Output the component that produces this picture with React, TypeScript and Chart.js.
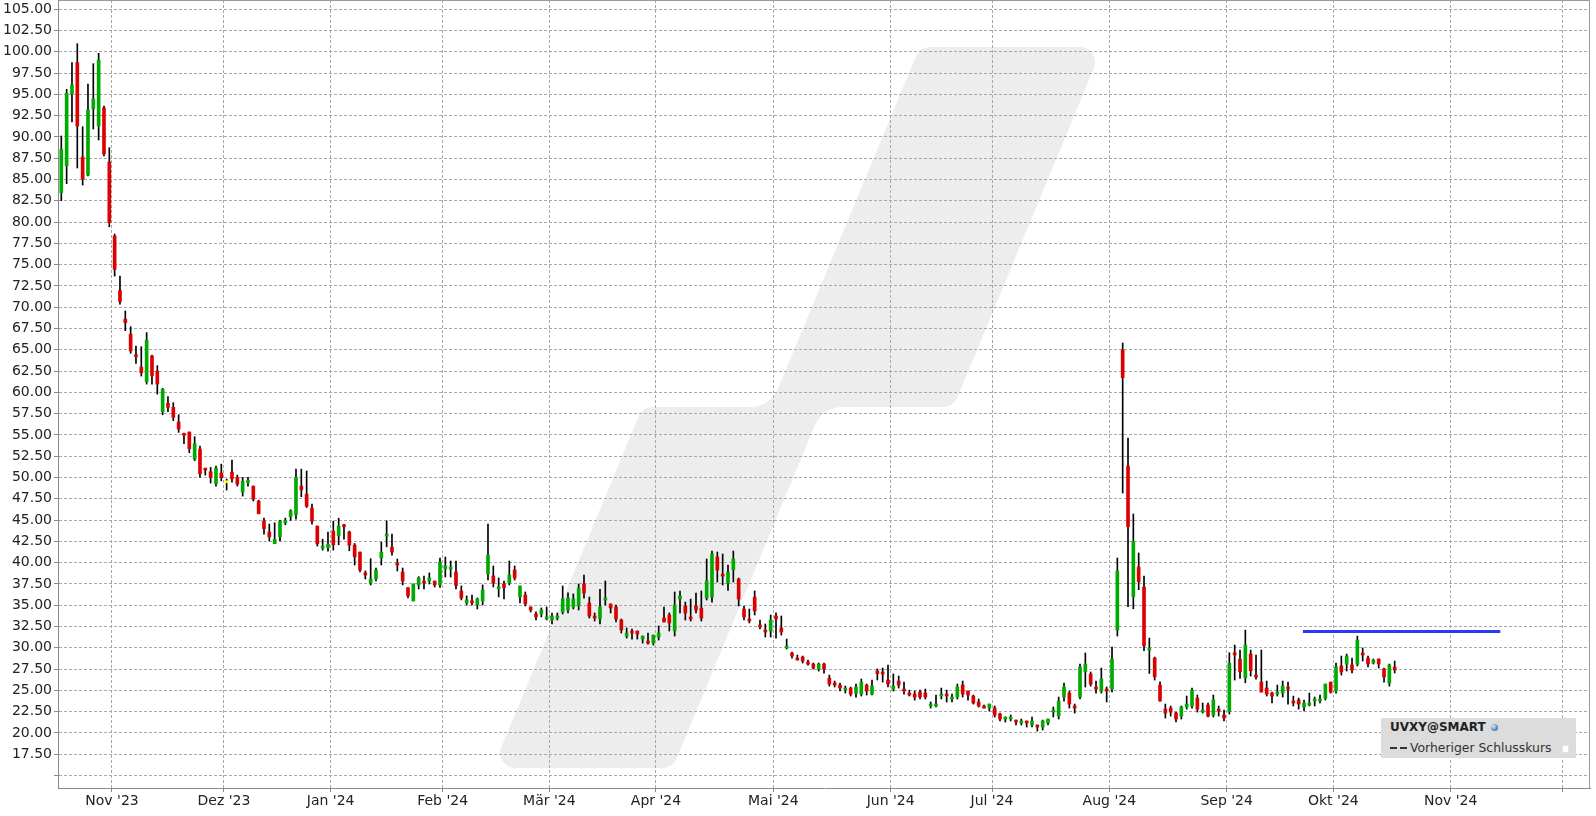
import { useEffect, useRef } from 'react';
import { Chart, registerables } from 'chart.js';

Chart.register(...registerables);

// ---- Data (UVXY daily candles, trading-day index 0 = 18 Oct 2023) ----
const openPrices = [
  83.46, 86.63, 95.05, 98.73, 87.65, 85.54, 93.33, 91.29, 93.41, 87.06,
  78.37, 71.95, 68.62, 66.83, 64.39, 62.98, 61.26, 64.27, 62.51, 57.74,
  58.72, 58.25, 56.52, 55.15, 55.35, 52.17, 53.35, 51.08, 50.68, 49.27,
  50.53, 49.39, 50.64, 50.02, 48.29, 49.39, 49.0, 47.24, 44.89, 43.6,
  42.23, 43.05, 44.69, 45.4, 45.63, 48.99, 48.05, 46.41, 44.3, 41.71,
  41.79, 43.71, 43.17, 44.42, 43.59, 42.07, 41.25, 38.8, 37.62, 38.09,
  40.55, 43.13, 41.83, 39.97, 38.91, 37.07, 35.51, 37.42, 37.85, 37.85,
  37.85, 37.39, 39.27, 39.27, 38.91, 36.68, 35.28, 35.51, 35.04, 35.51,
  38.68, 38.44, 36.92, 37.5, 37.62, 39.14, 35.98, 36.21, 34.8, 33.98,
  33.98, 33.4, 33.27, 33.5, 34.22, 34.45, 34.8, 34.92, 37.5, 35.26,
  33.74, 33.39, 35.62, 35.15, 34.8, 33.27, 31.39, 31.98, 31.98, 31.03,
  30.8, 30.56, 31.27, 33.5, 33.86, 31.98, 35.73, 34.92, 33.62, 34.92,
  34.68, 35.85, 35.97, 40.67, 38.67, 37.62, 39.14, 38.08, 34.56, 33.39,
  35.97, 32.68, 32.1, 31.98, 33.74, 32.33, 29.97, 29.39, 28.8, 28.92,
  28.33, 28.1, 27.51, 28.1, 26.45, 25.87, 25.63, 25.04, 25.28, 24.69,
  24.57, 25.63, 24.57, 27.28, 27.17, 26.22, 25.16, 26.1, 25.16, 24.69,
  24.57, 24.81, 24.69, 23.17, 23.17, 24.34, 24.57, 23.99, 24.22, 25.63,
  24.93, 24.34, 23.64, 23.17, 22.93, 22.93, 22.23, 21.64, 21.64, 21.52,
  21.17, 21.41, 20.94, 20.94, 20.7, 21.17, 22.46, 21.99, 24.22, 24.69,
  23.17, 24.22, 27.17, 26.93, 25.4, 24.93, 25.16, 25.16, 32.09, 64.98,
  51.35, 36.01, 39.49, 37.14, 29.74, 28.8, 25.63, 22.81, 22.93, 22.34,
  21.99, 23.05, 23.17, 24.1, 22.46, 23.28, 22.11, 22.81, 22.11, 22.5,
  29.43, 28.68, 26.49, 29.27, 26.8, 25.98, 25.28, 24.69, 24.57, 24.69,
  25.4, 23.75, 23.87, 23.05, 23.29, 23.75, 23.75, 24.1, 25.98, 24.93,
  27.87, 28.1, 27.99, 28.1, 29.39, 28.8, 28.22, 28.69, 27.52, 25.86,
  27.75,
];

const highPrices = [
  90.12, 95.6, 98.73, 100.96, 91.21, 96.22, 98.61, 99.83, 93.64, 88.74,
  78.6, 73.66, 69.57, 67.72, 65.45, 65.37, 67.02, 64.39, 63.14, 60.48,
  59.5, 58.79, 57.38, 55.23, 55.35, 54.8, 53.7, 51.08, 51.19, 51.35,
  51.58, 49.82, 52.05, 50.29, 50.02, 50.02, 49.0, 47.35, 45.24, 44.54,
  44.69, 44.97, 45.24, 46.23, 51.0, 50.99, 50.77, 46.88, 44.3, 42.77,
  43.59, 44.88, 45.23, 44.5, 43.71, 42.26, 41.25, 39.03, 40.47, 39.38,
  42.42, 44.92, 43.36, 40.43, 39.38, 37.07, 37.5, 38.36, 38.44, 38.8,
  37.85, 40.55, 40.67, 40.2, 40.2, 37.27, 36.1, 36.21, 35.86, 37.39,
  44.53, 39.62, 38.21, 37.85, 40.2, 39.62, 37.27, 36.56, 34.8, 34.22,
  34.69, 34.8, 34.09, 34.09, 37.27, 36.45, 36.33, 37.5, 38.55, 35.97,
  34.1, 36.88, 37.85, 35.15, 35.03, 33.39, 32.33, 32.21, 31.98, 31.39,
  31.74, 31.5, 32.57, 34.8, 34.1, 36.56, 36.68, 35.38, 35.73, 36.44,
  36.68, 40.43, 41.37, 41.25, 41.02, 39.73, 41.37, 38.2, 34.92, 34.56,
  36.68, 33.27, 32.8, 33.86, 34.1, 33.74, 31.03, 29.51, 29.16, 29.04,
  28.57, 28.22, 28.22, 28.22, 26.8, 26.1, 25.87, 25.51, 25.4, 25.75,
  26.34, 25.75, 26.22, 27.52, 27.63, 27.99, 26.93, 26.69, 25.98, 25.04,
  24.93, 25.04, 25.16, 23.64, 24.46, 25.28, 25.04, 24.57, 25.75, 26.1,
  24.93, 24.46, 23.99, 23.29, 23.4, 23.17, 22.34, 21.88, 22.11, 21.52,
  21.64, 21.41, 21.88, 20.94, 21.52, 21.64, 23.05, 24.22, 25.87, 24.93,
  23.4, 28.1, 29.4, 27.17, 26.1, 27.63, 25.4, 30.1, 40.55, 65.8,
  54.64, 45.72, 41.14, 38.43, 31.15, 28.92, 26.02, 23.4, 23.17, 22.46,
  23.17, 24.34, 25.28, 24.46, 23.52, 23.52, 24.46, 23.17, 22.7, 29.43,
  30.33, 29.74, 32.09, 29.74, 29.16, 29.74, 26.1, 24.81, 25.63, 26.1,
  25.98, 24.34, 24.1, 23.87, 24.69, 24.22, 24.46, 25.75, 25.98, 28.22,
  29.04, 29.27, 28.8, 31.38, 29.98, 29.04, 28.69, 28.69, 27.63, 28.1,
  28.45,
];

const lowPrices = [
  82.52, 84.52, 91.76, 86.36, 84.36, 85.42, 90.94, 89.65, 87.77, 79.46,
  73.66, 70.38, 67.25, 64.6, 63.41, 61.92, 60.98, 60.98, 59.8, 57.38,
  57.74, 56.68, 55.31, 53.98, 52.92, 51.98, 50.06, 50.29, 49.35, 49.0,
  49.62, 48.53, 49.47, 49.0, 47.82, 49.0, 47.24, 45.75, 43.36, 42.55,
  42.23, 42.55, 44.46, 44.97, 45.12, 47.76, 46.49, 44.53, 41.95, 41.48,
  41.36, 41.48, 42.11, 42.77, 41.4, 39.73, 38.91, 38.09, 37.39, 37.85,
  39.73, 41.87, 40.9, 39.03, 37.39, 35.86, 35.51, 36.92, 36.92, 37.5,
  37.15, 37.11, 38.32, 38.32, 36.92, 35.63, 35.04, 35.04, 34.57, 35.04,
  37.97, 37.15, 35.98, 35.75, 37.39, 37.97, 35.28, 34.92, 34.22, 33.28,
  33.63, 33.28, 32.8, 33.27, 33.98, 34.09, 34.57, 34.45, 35.85, 33.5,
  33.15, 32.8, 35.03, 34.1, 33.04, 31.74, 31.15, 31.03, 31.03, 30.56,
  30.44, 30.33, 30.92, 33.04, 31.98, 31.39, 34.1, 33.27, 33.15, 34.1,
  33.15, 35.62, 35.38, 37.73, 37.38, 36.76, 37.73, 34.92, 33.27, 32.92,
  33.86, 32.21, 31.27, 31.27, 31.15, 31.5, 29.86, 28.8, 28.57, 28.22,
  27.98, 27.51, 27.27, 27.04, 25.51, 25.4, 24.93, 24.69, 24.34, 24.22,
  24.34, 24.46, 24.46, 26.22, 25.98, 25.4, 24.93, 25.28, 24.57, 24.34,
  23.87, 23.99, 23.99, 22.93, 23.05, 23.99, 23.64, 23.64, 23.99, 24.22,
  23.87, 23.4, 23.05, 22.93, 22.58, 21.88, 21.41, 21.29, 21.41, 20.94,
  20.94, 20.7, 20.7, 20.23, 20.35, 20.94, 21.88, 21.64, 23.75, 22.93,
  22.34, 23.99, 25.4, 25.51, 24.69, 24.69, 23.64, 24.81, 31.39, 48.18,
  34.83, 34.59, 36.83, 29.67, 27.0, 26.22, 23.75, 21.76, 21.99, 21.29,
  21.64, 22.81, 22.93, 22.46, 22.34, 21.88, 21.88, 21.99, 21.41, 22.23,
  26.22, 26.41, 25.9, 26.69, 26.33, 24.81, 24.34, 23.52, 24.34, 24.22,
  23.4, 23.17, 22.81, 22.58, 23.17, 23.17, 23.52, 23.87, 24.69, 24.69,
  26.8, 27.28, 27.05, 27.87, 28.45, 27.75, 28.1, 27.63, 25.98, 25.51,
  27.05,
];

const closePrices = [
  88.55, 95.13, 96.11, 91.29, 85.07, 93.17, 94.46, 99.04, 88.0, 79.94,
  74.45, 70.66, 68.19, 64.87, 64.2, 62.31, 66.16, 61.96, 60.98, 60.36,
  58.25, 57.07, 55.7, 54.96, 53.39, 53.98, 50.45, 50.88, 49.98, 51.11,
  49.98, 49.39, 49.86, 49.23, 49.58, 49.7, 47.47, 45.75, 43.99, 43.05,
  42.74, 44.89, 44.97, 46.07, 50.02, 48.56, 46.61, 44.88, 42.22, 41.95,
  42.18, 42.11, 44.3, 44.22, 42.07, 40.7, 39.14, 38.56, 38.09, 39.14,
  41.25, 43.36, 41.25, 39.73, 37.85, 36.1, 37.5, 38.2, 37.62, 38.21,
  37.39, 40.08, 39.62, 39.5, 37.31, 35.86, 35.63, 35.28, 35.75, 36.8,
  40.9, 37.62, 37.15, 37.07, 38.56, 38.2, 37.27, 35.16, 34.45, 33.63,
  34.45, 33.63, 33.74, 33.74, 35.75, 35.86, 35.75, 37.03, 36.44, 33.74,
  33.5, 34.8, 35.85, 34.68, 33.39, 32.1, 31.74, 31.74, 31.62, 31.39,
  30.56, 31.5, 31.74, 33.04, 32.92, 35.03, 36.09, 34.1, 33.39, 34.45,
  33.5, 37.85, 41.02, 39.14, 38.43, 38.9, 40.43, 35.73, 33.62, 33.15,
  34.33, 32.45, 31.86, 33.27, 33.39, 31.86, 30.21, 29.04, 28.57, 28.45,
  28.1, 27.63, 28.1, 27.51, 25.75, 25.63, 25.28, 25.28, 24.57, 25.4,
  25.98, 24.93, 25.51, 26.97, 26.93, 25.75, 25.51, 25.63, 24.93, 24.46,
  24.22, 24.22, 24.22, 23.4, 23.4, 24.57, 24.34, 24.22, 25.4, 24.57,
  24.46, 23.52, 23.17, 22.93, 23.4, 22.11, 21.64, 21.88, 21.88, 21.29,
  21.41, 21.17, 21.41, 20.7, 21.41, 21.64, 22.7, 23.75, 25.4, 23.4,
  22.93, 27.75, 28.1, 25.75, 25.16, 26.34, 24.93, 28.69, 39.02, 61.73,
  44.23, 42.51, 37.77, 30.25, 29.98, 26.61, 23.75, 22.34, 22.46, 21.64,
  23.05, 23.4, 25.04, 22.81, 22.7, 21.99, 23.87, 22.58, 21.76, 28.18,
  29.16, 27.2, 30.33, 27.31, 26.57, 24.81, 24.57, 24.34, 24.81, 25.51,
  25.16, 23.52, 23.4, 23.52, 23.52, 23.99, 23.99, 25.75, 24.81, 27.75,
  27.17, 29.04, 27.4, 30.91, 29.16, 28.1, 28.57, 28.1, 26.57, 27.98,
  27.4,
];

// Month boundaries on the trading-day index axis and their labels
const monthTickIdx = [9.5, 30.5, 50.5, 71.5, 91.5, 111.5, 133.5, 155.5, 174.5, 196.5, 218.5, 238.5, 260.5, 281.5];
const monthLabels = ["Nov '23", "Dez '23", "Jan '24", "Feb '24", "Mär '24", "Apr '24", "Mai '24", "Jun '24", "Jul '24", "Aug '24", "Sep '24", "Okt '24", "Nov '24", ""];

const yTickValues = [15, 17.5, 20, 22.5, 25, 27.5, 30, 32.5, 35, 37.5, 40, 42.5, 45, 47.5, 50, 52.5, 55, 57.5, 60, 62.5, 65, 67.5, 70, 72.5, 75, 77.5, 80, 82.5, 85, 87.5, 90, 92.5, 95, 97.5, 100, 102.5, 105];

// Previous-close reference level and the index span it covers
const prevCloseLevel = 31.93;
const prevCloseSpan = [232.8, 269.8];

const symbolLabel = 'UVXY@SMART';
const legendLabel = 'Vorheriger Schlusskurs';

const FONT = 'DejaVu Sans, Verdana, sans-serif';

export default function App() {
  const ref = useRef<HTMLCanvasElement>(null);

  useEffect(() => {
    const canvas = ref.current;
    if (!canvas) return;
    const idx = openPrices.map((_, i) => i);
    const wickData = idx.map((i) => ({ x: i, y: [lowPrices[i], highPrices[i]] }));
    const bodyData = idx.map((i) => ({ x: i, y: [openPrices[i], closePrices[i]] }));
    const bodyColors = idx.map((i) =>
      closePrices[i] > openPrices[i] ? '#00aa00' : closePrices[i] < openPrices[i] ? '#dd0000' : '#ffff00'
    );

    const watermark = {
      id: 'watermark',
      beforeDraw(chart: any) {
        const ctx = chart.ctx as CanvasRenderingContext2D;
        const P = [
          [919.8, 47], [1102.7, 47], [953.4, 407], [822.5, 407],
          [672.7, 768], [492.7, 768], [642.5, 407], [770.4, 407],
        ];
        const R = [15, 15, 15, 30, 15, 15, 15, 30];
        ctx.save();
        ctx.fillStyle = '#ededed';
        ctx.beginPath();
        const n = P.length;
        const mx = (P[0][0] + P[1][0]) / 2;
        ctx.moveTo(mx, P[0][1]);
        for (let k = 1; k <= n; k++) {
          const cur = P[k % n];
          const nxt = P[(k + 1) % n];
          ctx.arcTo(cur[0], cur[1], nxt[0], nxt[1], R[k % n]);
        }
        ctx.closePath();
        ctx.fill();
        ctx.restore();
      },
    };

    const frame = {
      id: 'frame',
      afterDraw(chart: any) {
        const ctx = chart.ctx as CanvasRenderingContext2D;
        const a = chart.chartArea;
        ctx.save();
        ctx.strokeStyle = '#999999';
        ctx.lineWidth = 1;
        ctx.beginPath();
        ctx.moveTo(Math.round(a.left) + 0.5, 0.5);
        ctx.lineTo(Math.round(a.right) - 0.5, 0.5);
        ctx.lineTo(Math.round(a.right) - 0.5, Math.round(a.bottom));
        ctx.stroke();
        ctx.restore();
      },
    };

    const gridCommon = {
      color: '#a8a8a8',
      lineWidth: 1,
      drawTicks: true,
      tickLength: 4,
      tickColor: '#8a8a8a',
      offset: false,
    };

    const chart = new Chart(canvas, {
      type: 'bar',
      data: {
        datasets: [
          {
            type: 'line',
            data: [
              { x: prevCloseSpan[0], y: prevCloseLevel },
              { x: prevCloseSpan[1], y: prevCloseLevel },
            ],
            borderColor: '#2b38f2',
            borderWidth: 3,
            pointRadius: 0,
            order: 0,
          } as any,
          {
            data: bodyData as any,
            backgroundColor: bodyColors,
            barThickness: 3,
            minBarLength: 2,
            grouped: false,
            order: 1,
          } as any,
          {
            data: wickData as any,
            backgroundColor: '#000000',
            barThickness: 1,
            grouped: false,
            order: 2,
          } as any,
        ],
      },
      options: {
        animation: false,
        responsive: false,
        devicePixelRatio: 1,
        events: [],
        layout: { padding: { top: 0, right: 6, bottom: 0, left: 0 } },
        plugins: { legend: { display: false }, tooltip: { enabled: false } },
        scales: {
          x: {
            type: 'linear',
            min: -0.62,
            max: 286.62,
            offset: false,
            grid: gridCommon,
            border: { display: true, color: '#8a8a8a', width: 1, dash: [3, 2] },
            ticks: {
              autoSkip: false,
              maxRotation: 0,
              minRotation: 0,
              padding: 1,
              color: '#222222',
              font: { family: FONT, size: 14 },
              callback: (v: any) => {
                const k = monthTickIdx.indexOf(Number(v));
                return k >= 0 ? monthLabels[k] : null;
              },
            },
            afterBuildTicks: (s: any) => {
              s.ticks = monthTickIdx.map((v) => ({ value: v }));
            },
            afterFit: (s: any) => {
              s.height = 28;
              s.paddingLeft = 0;
              s.paddingRight = 0;
            },
          } as any,
          y: {
            type: 'linear',
            position: 'left',
            min: 13.54,
            max: 106.09,
            grid: gridCommon,
            border: { display: true, color: '#8a8a8a', width: 1, dash: [3, 2] },
            ticks: {
              padding: 2,
              color: '#222222',
              font: { family: FONT, size: 14 },
              callback: (v: any) => (Number(v) === 15 ? '' : Number(v).toFixed(2)),
            },
            afterBuildTicks: (s: any) => {
              s.ticks = yTickValues.map((v) => ({ value: v }));
            },
            afterFit: (s: any) => {
              s.width = 58;
              s.paddingTop = 0;
              s.paddingBottom = 0;
            },
          } as any,
        },
      },
      plugins: [watermark, frame],
    });

    return () => chart.destroy();
  }, []);

  return (
    <div style={{ position: 'absolute', left: 0, top: 0, width: 1596, height: 816, background: '#ffffff' }}>
      <canvas ref={ref} width={1596} height={816} style={{ display: 'block', width: 1596, height: 816 }} />
      <div
        style={{
          position: 'absolute', left: 1381, top: 718, width: 195, height: 40,
          background: '#dcdcdc', fontFamily: FONT, color: '#222',
        }}
      >
        <div style={{ position: 'absolute', left: 9, top: 2, fontSize: 12, fontWeight: 'bold', lineHeight: '14px', whiteSpace: 'nowrap' }}>
          {symbolLabel}
        </div>
        <div
          style={{
            position: 'absolute', left: 110, top: 6, width: 7, height: 7, borderRadius: '50%',
            background: 'radial-gradient(circle at 35% 35%, #d8e8f6, #4a7bb0 70%, #2c4f7a)',
          }}
        />
        <div style={{ position: 'absolute', left: 9, top: 29, width: 7, height: 2, background: '#333' }} />
        <div style={{ position: 'absolute', left: 19, top: 29, width: 7, height: 2, background: '#333' }} />
        <div style={{ position: 'absolute', left: 29, top: 23, fontSize: 12.4, lineHeight: '14px', whiteSpace: 'nowrap', color: '#333' }}>
          {legendLabel}
        </div>
        <div style={{ position: 'absolute', left: 181, top: 27, width: 5, height: 6, background: '#ffffff', border: '1px solid #e4e4f0' }} />
      </div>
    </div>
  );
}
